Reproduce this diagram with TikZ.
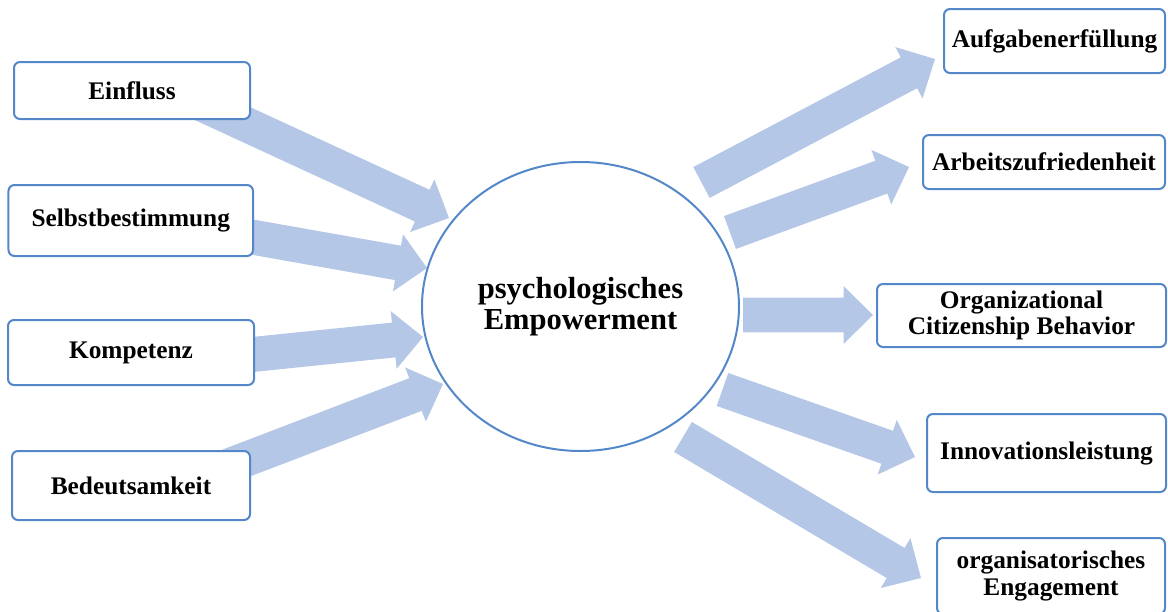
\documentclass[tikz,border=0pt]{standalone}
\usepackage{fontspec}
\setmainfont{Liberation Serif}
\usetikzlibrary{calc,shapes.geometric}

\definecolor{boxblue}{RGB}{83,135,200}
\definecolor{arrowfill}{RGB}{180,199,231}

% block arrow sizes
\newcommand{\fashaft}{13.1pt}
\newcommand{\fahead}{21.75pt}
\newcommand{\faheadlen}{22.1pt}
% block arrow from #1 (tail) to #2 (tip)
\newcommand{\fatarrow}[2]{%
  \coordinate (fa-h) at ($(#2)!\faheadlen!(#1)$);
  \fill[arrowfill] ($(#1)!\fashaft!90:(#2)$) -- ($(fa-h)!\fashaft!-90:(#1)$) -- ($(fa-h)!\fahead!-90:(#1)$) -- (#2) -- ($(fa-h)!\fahead!90:(#1)$) -- ($(fa-h)!\fashaft!90:(#1)$) -- ($(#1)!\fashaft!-90:(#2)$) -- cycle;
}

\tikzset{every picture/.style={line width=0.75pt}}
\tikzset{
  factor/.style={draw=boxblue, line width=1.5pt, rounded corners=4.5pt, fill=white, align=center, inner sep=0.75pt, font=\fontsize{19}{20}\selectfont\bfseries},
  core/.style={draw=boxblue, line width=1.5pt, ellipse, inner sep=0pt, align=center, font=\fontsize{22.9}{23.25}\selectfont\bfseries},
}

\begin{document}
\begin{tikzpicture}[x=0.75pt,y=0.75pt,yscale=-1,xscale=1]
\useasboundingbox (0,0) rectangle (1168,611);

%Arrow ends
\coordinate (einfluss-s) at (180,94);
\coordinate (einfluss-e) at (449,218);
\coordinate (selbst-s) at (150,219);
\coordinate (selbst-e) at (427,268);
\coordinate (kompetenz-s) at (160,364);
\coordinate (kompetenz-e) at (423,337);
\coordinate (bedeutung-s) at (150,496);
\coordinate (bedeutung-e) at (443,384);
\coordinate (aufgaben-s) at (701.5,182.5);
\coordinate (aufgaben-e) at (935,59);
\coordinate (zufrieden-s) at (730,232.5);
\coordinate (zufrieden-e) at (909,167);
\coordinate (ocb-s) at (743,315);
\coordinate (ocb-e) at (873,315);
\coordinate (innovation-s) at (722.5,389.5);
\coordinate (innovation-e) at (915,457);
\coordinate (engagement-s) at (683,437);
\coordinate (engagement-e) at (921,578);

%Block Arrows in
\fatarrow{einfluss-s}{einfluss-e}
\fatarrow{selbst-s}{selbst-e}
\fatarrow{kompetenz-s}{kompetenz-e}
\fatarrow{bedeutung-s}{bedeutung-e}
%Block Arrows out
\fatarrow{aufgaben-s}{aufgaben-e}
\fatarrow{zufrieden-s}{zufrieden-e}
\fatarrow{ocb-s}{ocb-e}
\fatarrow{innovation-s}{innovation-e}
\fatarrow{engagement-s}{engagement-e}

%Rounded Rect left
\node[factor, minimum width=177pt, minimum height=42.75pt] (einfluss) at (132,90.5) {Einfluss};
\node[factor, minimum width=183.4pt, minimum height=53.25pt] (selbst) at (130.75,220.5) {Selbstbestimmung};
\node[factor, minimum width=184.5pt, minimum height=48.75pt] (kompetenz) at (131,352.5) {Kompetenz};
\node[factor, minimum width=178.5pt, minimum height=51.75pt] (bedeutung) at (131,485.5) {Bedeutsamkeit};

%Ellipse
\node[core, minimum width=237.75pt, minimum height=216.75pt] (empowerment) at (580.5,306.5) {psychologisches\\Empowerment};

%Rounded Rect right
\node[factor, minimum width=165.75pt, minimum height=48pt] (aufgaben) at (1054.5,41) {Aufgabenerfüllung};
\node[factor, minimum width=181.5pt, minimum height=40.5pt] (zufrieden) at (1044,162) {Arbeitszufriedenheit};
\node[factor, minimum width=216.75pt, minimum height=47.25pt] (ocb) at (1021.5,315.5) {Organizational\\Citizenship Behavior};
\node[factor, minimum width=179.25pt, minimum height=58.5pt] (innovation) at (1046.5,453) {Innovationsleistung};
\node[factor, minimum width=171pt, minimum height=57pt] (engagement) at (1051,576) {organisatorisches\\Engagement};

\end{tikzpicture}
\end{document}
